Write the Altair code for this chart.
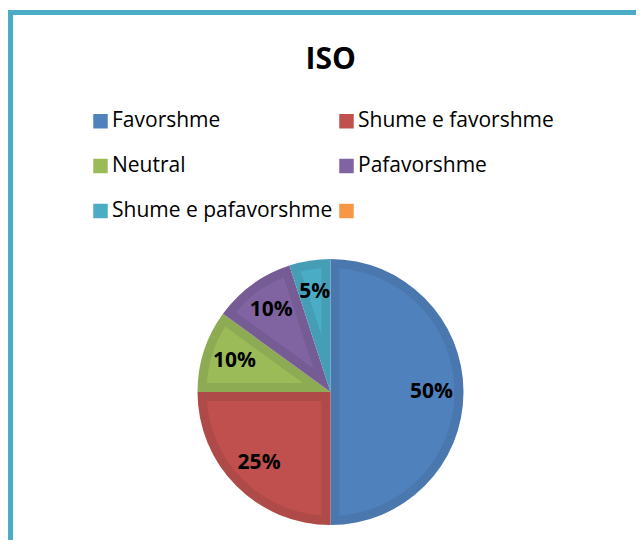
import altair as alt
import pandas as pd

# ---- data ----
categories = ["Favorshme", "Shume e favorshme", "Neutral", "Pafavorshme", "Shume e pafavorshme", " "]
values = [50, 25, 10, 10, 5, 0]
fill_colors = ["#4F81BD", "#C0504D", "#9BBB59", "#8064A2", "#4BACC6", "#F79646"]
band_colors = ["#4A77AE", "#AE4A47", "#8DAB52", "#755C95", "#459EB6", "#E08A40"]

df = pd.DataFrame({
    "cat": categories,
    "value": values,
    "idx": list(range(len(categories))),
    "dark": band_colors,
})

W, H = 625.5, 527.5
CX, CY = 320, 379.5   # pie centre inside the view
R_OUT = 133
BAND = 9
R_IN = R_OUT - BAND
FONT = "Open Sans"
FRAME = "#4BACC6"

base = alt.Chart(df).transform_calculate(
    r0=f"datum.value >= 50 ? {BAND} : (datum.value > 0 ? {BAND} / sin(PI * datum.value / 100) : 0)",
).transform_calculate(
    pad=f"2 * {BAND} / sqrt(datum.r0 * datum.r0 + {R_IN * R_IN})",
    label="datum.value > 0 ? datum.value + '%' : ''",
)

theta = alt.Theta("value:Q", stack=True)
order = alt.Order("idx:Q", sort="ascending")

rim = base.mark_arc(radius=R_OUT).encode(
    theta=theta,
    fill=alt.Fill("dark:N", scale=None),
    order=order,
    x=alt.value(CX), y=alt.value(CY),
)

inner = base.mark_arc(
    radius=R_IN,
    radius2=alt.ExprRef("datum.r0"),
    padAngle=alt.ExprRef("datum.pad"),
).encode(
    theta=theta,
    color=alt.Color(
        "cat:N",
        scale=alt.Scale(domain=categories, range=fill_colors),
        sort=categories,
        legend=alt.Legend(
            title=None,
            orient="none",
            direction="horizontal",
            legendX=79.5,
            legendY=98,
            columns=2,
            symbolType="square",
            symbolSize=210,
            symbolStrokeWidth=0,
            labelFont=FONT,
            labelFontSize=21,
            labelColor="#000000",
            labelLimit=400,
            labelOffset=1,
            columnPadding=3,
            rowPadding=23,
            padding=0,
        ),
    ),
    order=order,
    x=alt.value(CX), y=alt.value(CY),
)

labels = base.mark_text(
    radius=101, font=FONT, fontSize=21, fontWeight="bold", color="#000000"
).encode(
    theta=theta,
    text="label:N",
    order=order,
    x=alt.value(CX), y=alt.value(CY),
)

frame_df = pd.DataFrame({"k": [0]})
top_edge = alt.Chart(frame_df).mark_rule(color=FRAME, strokeWidth=5, strokeCap="square").encode(
    x=alt.value(0), x2=alt.value(W + 20), y=alt.value(0),
)
left_edge = alt.Chart(frame_df).mark_rule(color=FRAME, strokeWidth=5, strokeCap="square").encode(
    x=alt.value(0), y=alt.value(0), y2=alt.value(H + 20),
)

chart = alt.layer(rim, inner, labels, top_edge, left_edge).properties(
    width=W,
    height=H,
    padding={"left": 2.5, "top": 4.5, "right": 0, "bottom": 0},
    autosize=alt.AutoSizeParams(type="none"),
    title=alt.TitleParams(
        "ISO", font=FONT, fontSize=30, fontWeight="bold", color="#000000",
        anchor="middle", baseline="alphabetic", offset=-90.5, dx=7.5,
    ),
).configure_view(
    stroke=None, fill="white",
)

chart.save("out.html", embed_options={"renderer": "svg", "actions": False})
